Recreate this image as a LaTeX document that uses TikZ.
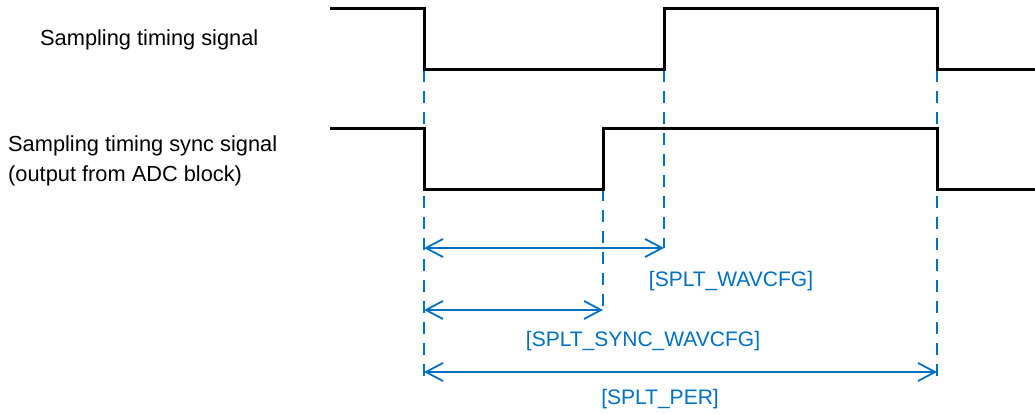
\documentclass[tikz,border=0pt]{standalone}
\usepackage{fontspec}
\setmainfont{Liberation Sans}
\usetikzlibrary{arrows.meta}
\definecolor{regblue}{RGB}{0,112,192}
\tikzset{
  wave/.style={line width=3pt, black},
  guide/.style={regblue, line width=1.8pt, dash pattern=on 12pt off 9pt},
  span/.style={regblue, line width=1.8pt, {Straight Barb[length=17pt,width=18pt]}-{Straight Barb[length=17pt,width=18pt]}},
  sig/.style={font=\fontsize{21.8}{30}\selectfont, align=left, anchor=west, inner sep=0pt},
  reg/.style={font=\fontsize{21}{25}\selectfont, text=regblue, inner sep=0pt}
}
\begin{document}
\begin{tikzpicture}[x=1pt,y=-1pt]
\useasboundingbox (0,0) rectangle (1035,414);
% signal names
\node[sig] (smp) at (40,40) {Sampling timing signal};
\node[sig] (sync) at (8,161) {Sampling timing sync signal\\(output from ADC block)};
% edges
\coordinate (fall) at (424,70);
\coordinate (rise) at (664,70);
\coordinate (srise) at (603,189);
\coordinate (next) at (937,70);
\coordinate (a1) at (424,248);
\coordinate (b1) at (664,248);
\coordinate (a2) at (424,310);
\coordinate (b2) at (603,310);
\coordinate (a3) at (424,372);
\coordinate (b3) at (937,372);
\coordinate (fallend) at (424,376);
\coordinate (nextend) at (937,376);
\draw[guide] (fall) -- (fallend);
\draw[guide] (rise) -- (b1);
\draw[guide] (srise) -- (b2);
\draw[guide] (next) -- (nextend);
% waveforms
\draw[wave] (330,9) -- (424,9) -- (424,70) -- (664,70) -- (664,9) -- (937,9) -- (937,70) -- (1035,70);
\draw[wave] (330,129) -- (424,129) -- (424,189) -- (603,189) -- (603,129) -- (937,129) -- (937,189) -- (1035,189);
\draw[span] (a1) -- (b1);
\draw[span] (a2) -- (b2);
\draw[span] (a3) -- (b3);
% register names
\node[reg] (wav) at (731,281) {[SPLT\_WAVCFG]};
\node[reg] (swav) at (643,341) {[SPLT\_SYNC\_WAVCFG]};
\node[reg] (per) at (660,399) {[SPLT\_PER]};
\end{tikzpicture}
\end{document}
